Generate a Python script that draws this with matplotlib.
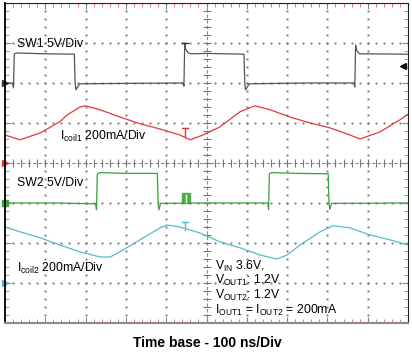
import numpy as np
import matplotlib
matplotlib.use('Agg')
import matplotlib.pyplot as plt

plt.rcParams['font.family'] = ['Liberation Sans', 'DejaVu Sans']
plt.rcParams['mathtext.fontset'] = 'custom'
plt.rcParams['mathtext.rm'] = 'Liberation Sans'

## traces in screen divisions (x: 0-10 div, 100 ns/div ; y: 0-8 div)
sw1_x = [0, 0.18, 0.21, 0.23, 0.28, 1.0, 1.72, 1.74, 1.76, 1.85, 3.0, 4.42, 4.44, 4.46, 4.48, 4.55, 4.62,
         5.0, 5.93, 5.95, 5.97, 6.06, 7.5, 8.66, 8.68, 8.70, 8.72, 8.80, 10]
sw1_y = [6.0, 6.0, 5.88, 6.72, 6.75, 6.73, 6.72, 6.0, 5.83, 5.98, 5.99, 6.0, 5.92, 7.0, 6.85, 6.75, 6.73,
         6.74, 6.72, 6.0, 5.83, 5.98, 6.0, 6.0, 5.9, 6.95, 6.82, 6.73, 6.72]

icoil1_x = [0, 0.37, 0.87, 1.36, 1.54, 1.86, 1.99, 2.36, 2.85, 3.35, 3.85, 4.34, 4.59, 4.91, 5.33, 5.83,
            6.20, 6.58, 7.07, 7.57, 8.06, 8.56, 8.81, 9.31, 9.80, 10.0]
icoil1_y = [4.70, 4.58, 4.75, 5.03, 5.20, 5.40, 5.43, 5.33, 5.15, 4.98, 4.85, 4.70, 4.58, 4.70, 4.90, 5.28,
            5.43, 5.33, 5.15, 5.00, 4.88, 4.70, 4.60, 4.78, 5.08, 5.22]

sw2_x = [0, 1.2, 2.25, 2.27, 2.29, 2.35, 3.0, 3.78, 3.80, 3.82, 3.86, 5.0, 6.52, 6.54, 6.56, 6.62,
         7.3, 8.02, 8.04, 8.06, 8.10, 10]
sw2_y = [3.0, 3.0, 2.98, 2.83, 3.72, 3.76, 3.74, 3.74, 3.0, 2.83, 2.99, 3.0, 3.0, 2.84, 3.73, 3.76,
         3.74, 3.73, 3.0, 2.84, 2.99, 3.0]

icoil2_x = [0, 0.37, 0.87, 1.36, 1.86, 2.36, 2.61, 2.85, 3.35, 3.85, 4.02, 4.34, 4.84, 5.33, 5.83, 6.33,
            6.75, 7.00, 7.32, 7.82, 8.14, 8.56, 9.06, 9.55, 10.0]
icoil2_y = [2.40, 2.28, 2.13, 1.95, 1.78, 1.65, 1.65, 1.78, 2.08, 2.38, 2.45, 2.40, 2.25, 2.03, 1.88, 1.70,
            1.60, 1.70, 1.95, 2.28, 2.43, 2.38, 2.20, 2.08, 1.95]

fig = plt.figure(figsize=(4.12, 3.55), dpi=100)
ax = fig.add_axes([5 / 412, 1 - 323 / 355, 403 / 412, 320 / 355])
ax.set_xlim(0, 10)
ax.set_ylim(0, 8)

# graticule (dotted)
dots = np.arange(0, 10.001, 0.2)
vdots = np.arange(0, 8.001, 0.2)
for gy in range(1, 8):
    if gy != 4:
        ax.plot(dots, [gy] * len(dots), ls='none', marker='s', ms=1.4, color='#7a7a7a', mew=0)
for gx in range(1, 10):
    if gx != 5:
        ax.plot([gx] * len(vdots), vdots, ls='none', marker='s', ms=1.4, color='#7a7a7a', mew=0)
# centre lines with ticks
ax.plot(dots, [4] * len(dots), ls=(0, (3, 2)), lw=0.8, color='#888888')
ax.plot(dots, [4] * len(dots), ls='none', marker='|', ms=6, mew=0.8, color='#777777')
ax.plot([5] * len(vdots), vdots, ls=(0, (3, 2)), lw=0.8, color='#888888')
ax.plot([5] * len(vdots), vdots, ls='none', marker='_', ms=6, mew=0.8, color='#777777')

# traces
ax.plot(sw1_x, sw1_y, color='#555555', lw=0.9)
ax.plot(icoil1_x, icoil1_y, color='#e03a3a', lw=0.9)
ax.plot(sw2_x, sw2_y, color='#3aa03a', lw=0.9)
ax.plot(icoil2_x, icoil2_y, color='#5ab8c8', lw=0.9)

# trigger / level markers
ax.plot([4.40, 4.54], [7.0, 7.0], color='#222222', lw=0.9)
ax.plot([4.40, 4.54], [4.88, 4.88], color='#e03a3a', lw=1.0)
ax.plot([4.47, 4.47], [4.88, 4.65], color='#e03a3a', lw=1.0)
ax.plot([4.40, 4.54], [2.53, 2.53], color='#5ab8c8', lw=1.0)
ax.plot([4.47, 4.47], [2.53, 2.33], color='#5ab8c8', lw=1.0)
ax.add_patch(plt.Rectangle((4.39, 3.0), 0.2, 0.25, facecolor='#4caf4c', edgecolor='#4caf4c'))
ax.plot([4.49, 4.49], [3.02, 3.2], color='white', lw=1.0)
ax.plot([0], [6.0], marker='>', ms=4, color='#333333', clip_on=False)
ax.plot([0], [4.0], marker='>', ms=4, color='#e03a3a', clip_on=False)
ax.plot([0], [3.0], marker='s', ms=4, color='#3aa03a', clip_on=False)
ax.plot([0], [1.0], marker='>', ms=4, color='#5ab8c8', clip_on=False)
ax.plot([9.88], [6.43], marker='<', ms=5, color='#111111', clip_on=False)

# frame
ax.set_xticks(np.arange(0, 10.01, 1))
ax.set_yticks(np.arange(0, 8.01, 1))
ax.set_xticks(dots, minor=True)
ax.set_yticks(vdots, minor=True)
ax.tick_params(which='both', direction='in', top=True, right=True,
               labelbottom=False, labelleft=False)
ax.tick_params(which='major', length=4, color='#888888')
ax.tick_params(which='minor', length=3, color='#d86a6a')
ax.spines['left'].set_color('black')
ax.spines['left'].set_linewidth(1.3)
ax.spines['bottom'].set_color('#8a8a8a')
ax.spines['bottom'].set_linewidth(1.5)
for s in ['top', 'right']:
    ax.spines[s].set_linestyle((0, (1, 1)))
    ax.spines[s].set_color('#222222')

fs = 8.8
ax.text(0.3, 6.98, 'SW1 5V/Div', fontsize=fs, va='center', ha='left')
ax.text(1.36, 4.66, r'I$_\mathregular{coil1}$ 200mA/Div', fontsize=fs, va='center', ha='left')
ax.text(0.3, 3.49, 'SW2 5V/Div', fontsize=fs, va='center', ha='left')
ax.text(0.3, 1.37, r'I$_\mathregular{coil2}$ 200mA/Div', fontsize=fs, va='center', ha='left')
ax.text(5.2, 1.42, r'V$_\mathregular{IN}$ 3.6V,', fontsize=fs, va='center', ha='left')
ax.text(5.2, 1.07, r'V$_\mathregular{OUT1}$: 1.2V', fontsize=fs, va='center', ha='left')
ax.text(5.2, 0.70, r'V$_\mathregular{OUT2}$: 1.2V', fontsize=fs, va='center', ha='left')
ax.text(5.2, 0.32, r'I$_\mathregular{OUT1}$ = I$_\mathregular{OUT2}$ = 200mA', fontsize=fs,
        va='center', ha='left')

fig.text(207 / 412, 1 - 343 / 355, 'Time base - 100 ns/Div', fontsize=10, fontweight='bold',
         ha='center', va='center')

fig.savefig('out.png', dpi=100)
